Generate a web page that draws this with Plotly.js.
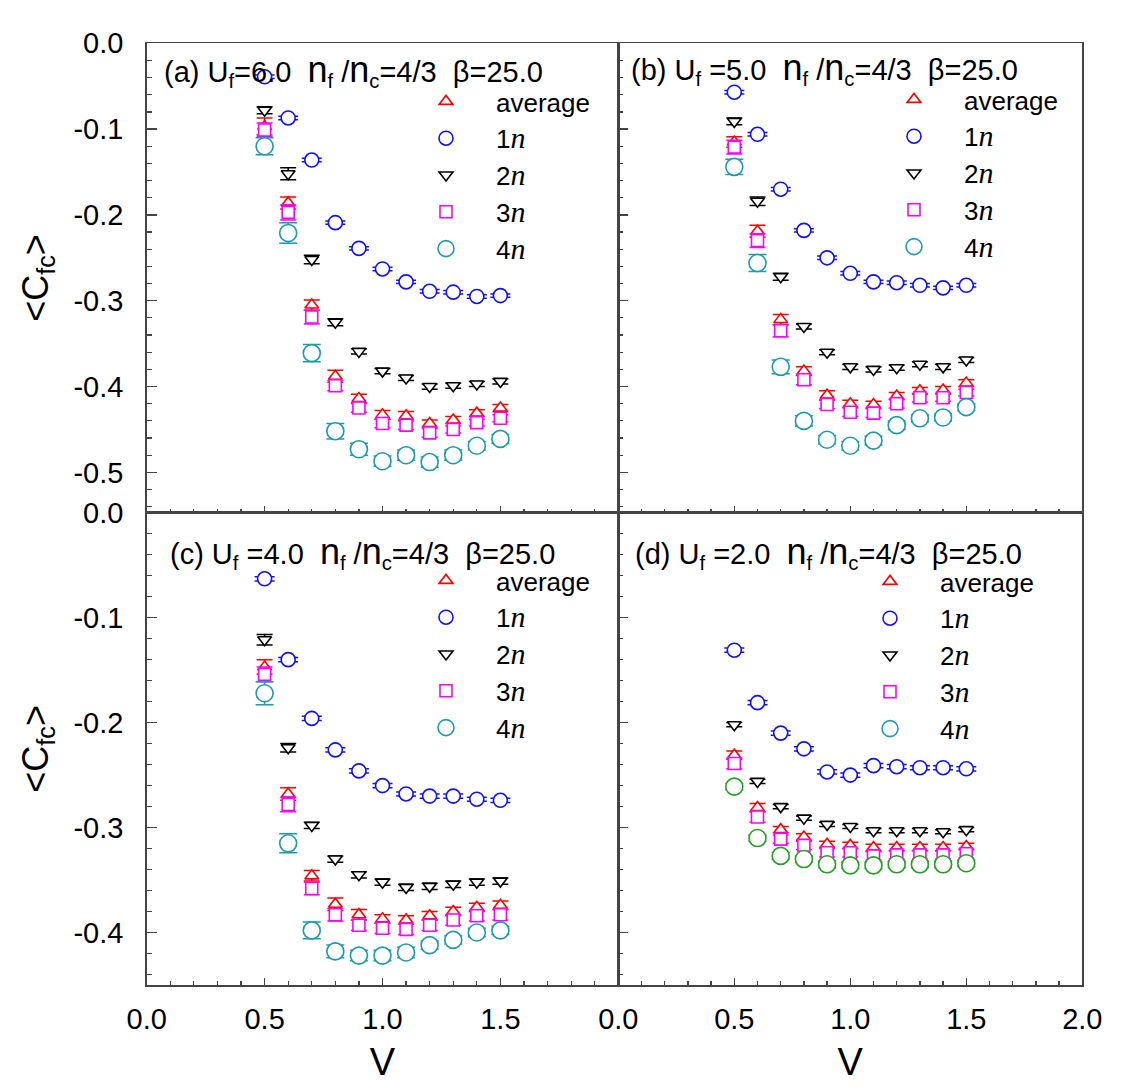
<!DOCTYPE html>
<html><head><meta charset="utf-8">
<script src="https://cdn.plot.ly/plotly-3.0.1.min.js"></script>
<style>html,body{margin:0;padding:0;background:#fff;} #chart{width:1125px;height:1090px;}</style>
</head><body><div id="chart"></div>
<script>
// ---------- data ----------
const V = [0.5, 0.6, 0.7, 0.8, 0.9, 1.0, 1.1, 1.2, 1.3, 1.4, 1.5];

// (a) Uf = 6.0
const aAvg  = [-0.097,-0.186,-0.305,-0.388,-0.414,-0.433,-0.434,-0.443,-0.439,-0.431,-0.425];
const aAvgE = [0.010,0.007,0.006,0.007,0.005,0.005,0.005,0.004,0.004,0.004,0.004];
const a1n   = [-0.039,-0.087,-0.136,-0.209,-0.239,-0.263,-0.278,-0.289,-0.290,-0.295,-0.294];
const a1nE  = [0.002,0.002,0.002,0.002,0.002,0.002,0.002,0.002,0.002,0.002,0.002];
const a2n   = [-0.078,-0.152,-0.252,-0.325,-0.359,-0.382,-0.390,-0.400,-0.399,-0.397,-0.394];
const a2nE  = [0.004,0.007,0.005,0.004,0.003,0.003,0.003,0.003,0.003,0.003,0.003];
const a3n   = [-0.101,-0.197,-0.319,-0.399,-0.425,-0.443,-0.445,-0.454,-0.450,-0.442,-0.437];
const a3nE  = [0.008,0.009,0.008,0.006,0.005,0.005,0.005,0.005,0.004,0.004,0.004];
const a4n   = [-0.120,-0.221,-0.361,-0.452,-0.473,-0.487,-0.480,-0.488,-0.480,-0.469,-0.461];
const a4nE  = [0.010,0.012,0.010,0.009,0.007,0.006,0.006,0.006,0.006,0.005,0.005];

// (b) Uf = 5.0
const bAvg  = [-0.115,-0.219,-0.322,-0.382,-0.410,-0.420,-0.421,-0.411,-0.405,-0.404,-0.396];
const bAvgE = [0.006,0.007,0.006,0.005,0.005,0.004,0.004,0.004,0.004,0.004,0.004];
const b1n   = [-0.057,-0.106,-0.170,-0.218,-0.250,-0.268,-0.278,-0.279,-0.282,-0.285,-0.282];
const b1nE  = [0.002,0.002,0.002,0.002,0.002,0.002,0.002,0.002,0.002,0.002,0.002];
const b2n   = [-0.091,-0.184,-0.272,-0.330,-0.360,-0.377,-0.380,-0.378,-0.374,-0.377,-0.369];
const b2nE  = [0.004,0.005,0.004,0.003,0.003,0.003,0.003,0.003,0.003,0.003,0.003];
const b3n   = [-0.121,-0.230,-0.335,-0.392,-0.421,-0.430,-0.431,-0.420,-0.413,-0.413,-0.407];
const b3nE  = [0.008,0.008,0.007,0.006,0.005,0.005,0.005,0.005,0.005,0.004,0.004];
const b4n   = [-0.144,-0.256,-0.377,-0.440,-0.462,-0.469,-0.463,-0.445,-0.437,-0.436,-0.424];
const b4nE  = [0.009,0.010,0.008,0.006,0.005,0.005,0.005,0.005,0.004,0.004,0.004];

// (c) Uf = 4.0
const cAvg  = [-0.147,-0.268,-0.346,-0.373,-0.383,-0.387,-0.388,-0.384,-0.380,-0.376,-0.374];
const cAvgE = [0.007,0.006,0.005,0.006,0.005,0.004,0.004,0.004,0.004,0.004,0.004];
const c1n   = [-0.063,-0.140,-0.196,-0.226,-0.246,-0.260,-0.268,-0.270,-0.270,-0.273,-0.274];
const c1nE  = [0.002,0.002,0.002,0.002,0.002,0.002,0.002,0.002,0.002,0.002,0.002];
const c2n   = [-0.121,-0.224,-0.298,-0.330,-0.345,-0.352,-0.357,-0.356,-0.354,-0.352,-0.351];
const c2nE  = [0.005,0.004,0.003,0.003,0.003,0.003,0.003,0.003,0.003,0.003,0.003];
const c3n   = [-0.154,-0.278,-0.358,-0.383,-0.393,-0.396,-0.397,-0.393,-0.388,-0.384,-0.383];
const c3nE  = [0.007,0.007,0.006,0.006,0.005,0.005,0.005,0.005,0.005,0.005,0.005];
const c4n   = [-0.172,-0.315,-0.398,-0.418,-0.422,-0.422,-0.419,-0.412,-0.407,-0.400,-0.398];
const c4nE  = [0.011,0.009,0.008,0.006,0.005,0.005,0.005,0.004,0.004,0.004,0.004];

// (d) Uf = 2.0
const dAvg  = [-0.231,-0.281,-0.302,-0.309,-0.316,-0.317,-0.319,-0.319,-0.319,-0.319,-0.318];
const dAvgE = [0.004,0.004,0.003,0.003,0.003,0.003,0.003,0.003,0.003,0.003,0.003];
const d1n   = [-0.131,-0.181,-0.210,-0.225,-0.247,-0.250,-0.241,-0.242,-0.243,-0.243,-0.244];
const d1nE  = [0.002,0.002,0.002,0.002,0.002,0.002,0.002,0.002,0.002,0.002,0.002];
const d2n   = [-0.202,-0.256,-0.280,-0.291,-0.297,-0.299,-0.303,-0.303,-0.303,-0.304,-0.302];
const d2nE  = [0.002,0.002,0.002,0.002,0.002,0.002,0.002,0.002,0.002,0.002,0.002];
const d3n   = [-0.239,-0.290,-0.311,-0.317,-0.324,-0.324,-0.327,-0.326,-0.326,-0.326,-0.325];
const d3nE  = [0.005,0.005,0.004,0.004,0.004,0.004,0.004,0.004,0.004,0.004,0.004];
const d4n   = [-0.261,-0.310,-0.327,-0.330,-0.335,-0.336,-0.336,-0.335,-0.335,-0.335,-0.334];
const d4nE  = [0.003,0.003,0.003,0.003,0.003,0.003,0.003,0.003,0.003,0.003,0.003];

// ---------- labels ----------
const seriesLabels = ['average', '1', '2', '3', '4'];
const panelLabels = [
  '(a) U<sub>f</sub>=6.0',
  '(b) U<sub>f</sub> =5.0',
  '(c) U<sub>f</sub> =4.0',
  '(d) U<sub>f</sub> =2.0'
];
const ratioLabel = '<span style="font-size:36px">n</span><sub>f</sub> /<span style="font-size:36px">n</span><sub>c</sub>=4/3';
const betaLabel = 'β=25.0';
const yTickValsTop = [0, -0.1, -0.2, -0.3, -0.4, -0.5];
const yTickTextTop = ['0.0', '-0.1', '-0.2', '-0.3', '-0.4', '-0.5'];
const yTickValsBot = [0, -0.1, -0.2, -0.3, -0.4];
const yTickTextBot = ['0.0', '-0.1', '-0.2', '-0.3', '-0.4'];
const xTickValsLeft = [0, 0.5, 1.0, 1.5];
const xTickTextLeft = ['0.0', '0.5', '1.0', '1.5'];
const xTickValsRight = [0, 0.5, 1.0, 1.5, 2.0];
const xTickTextRight = ['0.0', '0.5', '1.0', '1.5', '2.0'];
const yTitle = '&lt;C<sub>fc</sub>&gt;';
const xTitle = 'V';

// ---------- styles ----------
const RED = '#ff0000', BLUE = '#1010ff', BLACK = '#000000', MAG = '#ff00ff', TEAL = '#1c9bae', GREEN = '#22a022';
const italicN = '<span style="font-family:\'Liberation Serif\',\'Times New Roman\',serif;font-style:italic;font-weight:normal;font-size:30px">n</span>';
function seriesName(i) { return i === 0 ? seriesLabels[0] : seriesLabels[i] + italicN; }

const styles = [
  {color: RED,   symbol: 'triangle-up',   size: 12, cap: 8},
  {color: BLUE,  symbol: 'circle',        size: 14, cap: 10},
  {color: BLACK, symbol: 'triangle-down', size: 12, cap: 8},
  {color: MAG,   symbol: 'square',        size: 12, cap: 8},
  {color: TEAL,  symbol: 'circle',        size: 17, cap: 9}
];

const traces = [];
function addPanel(xa, ya, leg, sets, lastColor) {
  sets.forEach((s, i) => {
    const st = styles[i];
    const col = (i === 4 && lastColor) ? lastColor : st.color;
    traces.push({
      type: 'scatter', mode: 'markers', x: V, y: s[0],
      xaxis: xa, yaxis: ya, legend: leg,
      name: seriesName(i),
      showlegend: !(i === 4 && lastColor),
      marker: {symbol: st.symbol, size: st.size, color: '#ffffff', line: {color: col, width: 1.6}},
      error_y: {type: 'data', array: s[1], visible: true, color: col, thickness: 1.5, width: st.cap}
    });
    if (i === 4 && lastColor) {
      traces.push({
        type: 'scatter', mode: 'markers', x: [null], y: [null],
        xaxis: xa, yaxis: ya, legend: leg, name: seriesName(i), showlegend: true,
        marker: {symbol: st.symbol, size: st.size, color: '#ffffff', line: {color: st.color, width: 1.6}}
      });
    }
  });
}
addPanel('x3', 'y3', 'legend',  [[aAvg,aAvgE],[a1n,a1nE],[a2n,a2nE],[a3n,a3nE],[a4n,a4nE]]);
addPanel('x4', 'y4', 'legend2', [[bAvg,bAvgE],[b1n,b1nE],[b2n,b2nE],[b3n,b3nE],[b4n,b4nE]]);
addPanel('x',  'y',  'legend3', [[cAvg,cAvgE],[c1n,c1nE],[c2n,c2nE],[c3n,c3nE],[c4n,c4nE]]);
addPanel('x2', 'y2', 'legend4', [[dAvg,dAvgE],[d1n,d1nE],[d2n,d2nE],[d3n,d3nE],[d4n,d4nE]], GREEN);

// ---------- layout ----------
const W = 1125, H = 1090;
const xL = [146.7 / W, 618.3 / W], xR = [618.3 / W, 1082.3 / W];
const yT = [1 - 512.7 / H, 1 - 43.3 / H], yB = [1 - 985 / H, 1 - 512.7 / H];
const FONT = 'Liberation Sans, Arial, sans-serif';
const LINE = '#444';

function xAxis(domain, anchor, labels, vals, text) {
  return {
    domain: domain, anchor: anchor, range: [0, 2],
    showline: true, linecolor: LINE, linewidth: 1.5, mirror: true,
    ticks: 'inside', ticklen: 7, tickwidth: 1.3, tickcolor: LINE,
    tickmode: 'array', tickvals: vals, ticktext: text,
    showticklabels: labels, ticklabelstandoff: 8,
    minor: {tickmode: 'linear', tick0: 0, dtick: 0.1, ticks: 'inside', ticklen: 4, tickwidth: 1.2, tickcolor: LINE, showgrid: false},
    showgrid: false, zeroline: false,
    tickfont: {family: FONT, size: 29, color: '#000'},
    title: labels ? {text: xTitle, font: {family: FONT, size: 38, color: '#000'}, standoff: 14} : undefined
  };
}
function yAxis(domain, anchor, labels, range, vals, text) {
  return {
    domain: domain, anchor: anchor, range: range,
    showline: true, linecolor: LINE, linewidth: 1.5, mirror: true,
    ticks: 'inside', ticklen: 10, tickwidth: 1.3, tickcolor: LINE,
    tickmode: 'array', tickvals: vals, ticktext: text,
    showticklabels: labels, ticklabelstandoff: 16,
    minor: {tickmode: 'linear', tick0: 0, dtick: 0.02, ticks: 'inside', ticklen: 5, tickwidth: 1.2, tickcolor: LINE, showgrid: false},
    showgrid: false, zeroline: false,
    tickfont: {family: FONT, size: 29, color: '#000'},
    title: labels ? {text: yTitle, font: {family: FONT, size: 36, color: '#000'}, standoff: 14} : undefined
  };
}
function legendBox(xPx, yPx) {
  return {x: xPx / W, y: 1 - yPx / H, xanchor: 'left', yanchor: 'top',
    bgcolor: 'rgba(0,0,0,0)', borderwidth: 0, itemwidth: 90,
    font: {family: FONT, size: 26, color: '#000'}, traceorder: 'normal'};
}
function panelNote(i, xPx, yPx) {
  return {xref: 'paper', yref: 'paper', x: xPx / W, y: 1 - yPx / H, xanchor: 'left', yanchor: 'middle',
    showarrow: false, text: panelLabels[i] + '  ' + ratioLabel + '  ' + betaLabel,
    font: {family: FONT, size: 29, color: '#000'}};
}

const layout = {
  width: W, height: H,
  margin: {l: 0, r: 0, t: 0, b: 0},
  paper_bgcolor: '#fff', plot_bgcolor: '#fff',
  showlegend: true,
  xaxis:  xAxis(xL, 'y',  true,  xTickValsLeft,  xTickTextLeft),
  yaxis:  yAxis(yB, 'x',  true,  [-0.45, 0], yTickValsBot, yTickTextBot),
  xaxis2: xAxis(xR, 'y2', true,  xTickValsRight, xTickTextRight),
  yaxis2: yAxis(yB, 'x2', false, [-0.45, 0], yTickValsBot, yTickTextBot),
  xaxis3: xAxis(xL, 'y3', false, xTickValsLeft,  xTickTextLeft),
  yaxis3: yAxis(yT, 'x3', true,  [-0.547, 0], yTickValsTop, yTickTextTop),
  xaxis4: xAxis(xR, 'y4', false, xTickValsRight, xTickTextRight),
  yaxis4: yAxis(yT, 'x4', false, [-0.547, 0], yTickValsTop, yTickTextTop),
  legend:  legendBox(396, 78),
  legend2: legendBox(864, 76),
  legend3: legendBox(396, 557),
  legend4: legendBox(840, 558),
  annotations: [
    panelNote(0, 162, 70),
    panelNote(1, 629, 68),
    panelNote(2, 168, 552),
    panelNote(3, 633, 552)
  ]
};

Plotly.newPlot('chart', traces, layout, {displayModeBar: false, staticPlot: true});
</script>
</body></html>
